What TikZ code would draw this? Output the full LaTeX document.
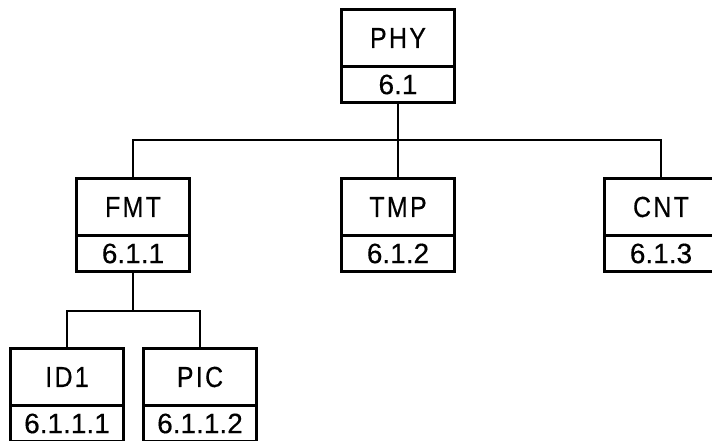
\documentclass[tikz,border=0pt]{standalone}
\usepackage{fontspec}
\setmainfont{Liberation Sans}
\newfontfamily\wide[LetterSpace=8,FakeStretch=0.86,FakeBold=0.4]{Liberation Sans}
\newfontfamily\narrow[FakeBold=0.4]{Liberation Sans}
\usetikzlibrary{positioning}
\tikzstyle{modname} = [rectangle,
minimum width=113pt,
minimum height=57pt,
inner sep=0pt,
outer sep=0pt,
text centered,
draw=black,
line width=2.3pt,
font=\fontsize{29}{29}\wide]
\tikzstyle{modno} = [rectangle,
minimum width=113pt,
minimum height=36pt,
inner sep=0pt,
outer sep=0pt,
text centered,
draw=black,
line width=2.3pt,
font=\fontsize{28}{28}\narrow]
\tikzstyle{link} = [line width=2.3pt]

\begin{document}
\begin{tikzpicture}[x=1pt,y=-1pt]
\useasboundingbox (0,0) rectangle (712,441);

\node (phy) [modname] at (398,38) {PHY};
\node (phyno) [modno, below=0pt of phy] {6.1};
\node (fmt) [modname] at (133,207) {FMT};
\node (fmtno) [modno, below=0pt of fmt] {6.1.1};
\node (tmp) [modname] at (398,207) {TMP};
\node (tmpno) [modno, below=0pt of tmp] {6.1.2};
\node (cnt) [modname] at (661,207) {CNT};
\node (cntno) [modno, below=0pt of cnt] {6.1.3};
\node (id) [modname] at (67,377) {ID1};
\node (idno) [modno, below=0pt of id] {6.1.1.1};
\node (pic) [modname] at (200,377) {PIC};
\node (picno) [modno, below=0pt of pic] {6.1.1.2};

\coordinate (bus1) at (398,140);
\coordinate (bus2) at (133,311);

\draw [link] (phyno.south) -- (tmp.north);
\draw [link] (fmt.north) |- (bus1);
\draw [link] (cnt.north) |- (bus1);
\draw [link] (fmtno.south) -- (bus2);
\draw [link] (id.north) |- (bus2);
\draw [link] (pic.north) |- (bus2);

\end{tikzpicture}
\end{document}
